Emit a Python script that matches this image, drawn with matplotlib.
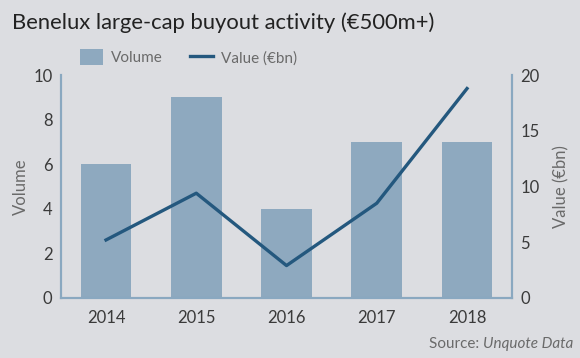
import matplotlib
matplotlib.use("Agg")
import matplotlib.pyplot as plt
from matplotlib.patches import Patch
from matplotlib.lines import Line2D

BG = "#dcdde1"
BAR = "#8ea9bf"
LINE = "#24587e"
SPINE = "#8aa8c0"
TEXT = "#3a3a3a"
MUTED = "#6a6a6a"

years = ["2014", "2015", "2016", "2017", "2018"]
volume = [6, 9, 4, 7, 7]
value_bn = [5.2, 9.4, 2.9, 8.5, 18.8]

plt.rcParams["font.family"] = ["Lato", "DejaVu Sans"]

fig = plt.figure(figsize=(5.8, 3.58), dpi=100)
fig.patch.set_facecolor(BG)
ax = fig.add_axes([0.105, 0.168, 0.778, 0.622])
ax.set_facecolor(BG)

x = range(len(years))
ax.bar(x, volume, width=0.56, color=BAR, zorder=1)
ax.set_xlim(-0.5, 4.5)
ax.set_ylim(0, 10)
ax.set_yticks([0, 2, 4, 6, 8, 10])
ax.set_xticks(list(x))
ax.set_xticklabels(years)
ax.set_ylabel("Volume", fontsize=12, color=MUTED, labelpad=3)

ax2 = ax.twinx()
ax2.plot(x, value_bn, color=LINE, linewidth=2.4, zorder=3)
ax2.set_ylim(0, 20)
ax2.set_yticks([0, 5, 10, 15, 20])
ax2.set_ylabel("Value (€bn)", fontsize=12, color=MUTED, labelpad=10)

for a in (ax, ax2):
    a.tick_params(length=0, labelsize=12, labelcolor=TEXT, pad=6)
    a.spines["top"].set_visible(False)
    for s in ("left", "right", "bottom"):
        a.spines[s].set_color(SPINE)
        a.spines[s].set_linewidth(1.5)
ax.tick_params(axis="x", pad=8.5)

fig.text(0.021, 0.936, "Benelux large-cap buyout activity (€500m+)",
         fontsize=15.8, color="#222222", va="center", ha="left")

handles = [Patch(facecolor=BAR, edgecolor="none"),
           Line2D([0], [0], color=LINE, linewidth=2.4)]
fig.legend(handles, ["Volume", "Value (€bn)"], loc="center left",
           bbox_to_anchor=(0.115, 0.84), ncol=2, frameon=False,
           fontsize=11, labelcolor=MUTED, handlelength=1.5,
           handleheight=1.2, columnspacing=1.8, handletextpad=0.5)

fig.text(0.833, 0.04, "Source: ", fontsize=11, color=MUTED, ha="right", va="center")
fig.text(0.833, 0.04, "Unquote Data", fontsize=11, color=MUTED,
         ha="left", va="center", style="italic")

fig.savefig("out.png", dpi=100, facecolor=BG)
